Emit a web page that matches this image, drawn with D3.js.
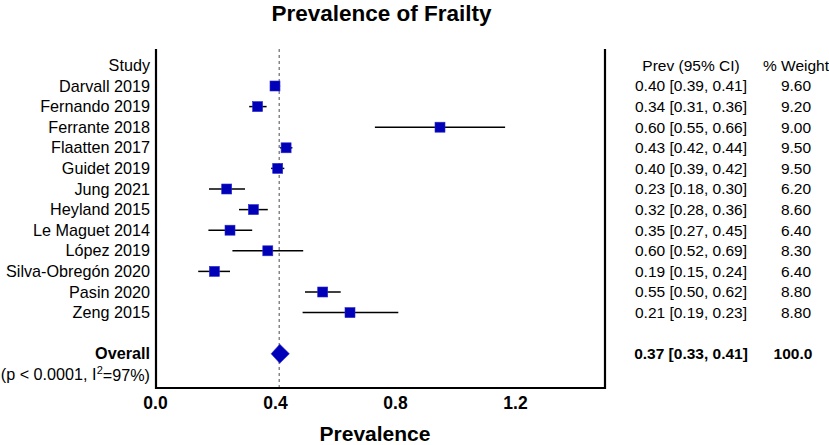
<!DOCTYPE html>
<html>
<head>
<meta charset="utf-8">
<script src="https://cdn.jsdelivr.net/npm/d3@7"></script>
<style>
  html, body { margin: 0; padding: 0; background: #fff; }
  svg { display: block; font-family: "Liberation Sans", Arial, sans-serif; }
</style>
</head>
<body>
<svg id="chart" width="829" height="445"></svg>
<script>
// ---- data ----
const studies = ["Darvall 2019", "Fernando 2019", "Ferrante 2018", "Flaatten 2017", "Guidet 2019",
  "Jung 2021", "Heyland 2015", "Le Maguet 2014", "López 2019", "Silva-Obregón 2020", "Pasin 2020", "Zeng 2015"];
const estimates = [0.400, 0.342, 0.950, 0.437, 0.409, 0.239, 0.328, 0.250, 0.376, 0.198, 0.559, 0.650];
const lowerCI   = [0.386, 0.314, 0.733, 0.417, 0.387, 0.180, 0.280, 0.178, 0.258, 0.144, 0.500, 0.492];
const upperCI   = [0.417, 0.372, 1.167, 0.458, 0.431, 0.300, 0.376, 0.324, 0.494, 0.250, 0.619, 0.811];
const prevLabels = ["0.40 [0.39, 0.41]", "0.34 [0.31, 0.36]", "0.60 [0.55, 0.66]", "0.43 [0.42, 0.44]",
  "0.40 [0.39, 0.42]", "0.23 [0.18, 0.30]", "0.32 [0.28, 0.36]", "0.35 [0.27, 0.45]", "0.60 [0.52, 0.69]",
  "0.19 [0.15, 0.24]", "0.55 [0.50, 0.62]", "0.21 [0.19, 0.23]"];
const weightLabels = ["9.60", "9.20", "9.00", "9.50", "9.50", "6.20", "8.60", "6.40", "8.30", "6.40", "8.80", "8.80"];
const overallVals = [0.387, 0.416, 0.448];   // lower, estimate, upper
const overallPrev = "0.37 [0.33, 0.41]";
const overallWeight = "100.0";
const refLine = 0.414;
const xTicks = [0.0, 0.4, 0.8, 1.2];
const xDomain = [0, 1.5];

// ---- layout ----
const svg = d3.select("#chart");
const FONT = '"Liberation Sans", Arial, sans-serif';
const x = d3.scaleLinear().domain(xDomain).range([155, 605]);
// row index -> y (header = -1, studies 0..11, overall = 13, stats = 14)
const y = d3.scaleLinear().domain([0, 11]).range([86, 312.6]);
const frameTop = 49, frameBottom = 388;
const labelX = 150, prevX = 691, weightX = 796;
const blue = "#0000b8";

// title
svg.append("text")
  .attr("x", 381.5).attr("y", 21)
  .attr("text-anchor", "middle")
  .attr("font-size", 22.5).attr("font-weight", "bold")
  .text("Prevalence of Frailty");

// frame (left, right, bottom)
const frame = svg.append("g").attr("stroke", "#000").attr("stroke-width", 2.2).attr("fill", "none");
frame.append("path")
  .attr("d", `M${x(0) + 1},${frameTop}V${frameBottom}H${x(xDomain[1])}V${frameTop}`);

// reference dashed line
svg.append("line")
  .attr("x1", x(refLine)).attr("x2", x(refLine))
  .attr("y1", frameTop).attr("y2", frameBottom - 1)
  .attr("stroke", "#6a6a6a").attr("stroke-width", 1.2)
  .attr("stroke-dasharray", "3,3");

// x axis tick labels
const xAxis = d3.axisBottom(x).tickValues(xTicks).tickFormat(d3.format(".1f")).tickSize(0).tickPadding(9);
const gx = svg.append("g").attr("transform", `translate(0,${frameBottom})`).call(xAxis);
gx.select(".domain").remove();
gx.selectAll("text").attr("font-size", 17.5).attr("font-weight", "bold").attr("font-family", FONT).attr("fill", "#000");

// x label
svg.append("text")
  .attr("x", 375).attr("y", 441)
  .attr("text-anchor", "middle")
  .attr("font-size", 21).attr("font-weight", "bold")
  .text("Prevalence");

// header row
svg.append("text").attr("x", labelX).attr("y", y(-1)).attr("dy", "0.35em")
  .attr("text-anchor", "end").attr("font-size", 16.2).text("Study");
svg.append("text").attr("x", prevX).attr("y", y(-1)).attr("dy", "0.35em")
  .attr("text-anchor", "middle").attr("font-size", 15.5).text("Prev (95% CI)");
svg.append("text").attr("x", 796).attr("y", y(-1)).attr("dy", "0.35em")
  .attr("text-anchor", "middle").attr("font-size", 15.5).text("% Weight");

const rows = studies.map((s, i) => ({ study: s, est: estimates[i], lo: lowerCI[i], hi: upperCI[i], prev: prevLabels[i], w: weightLabels[i], i }));

// study labels
svg.append("g").selectAll("text").data(rows).join("text")
  .attr("x", labelX).attr("y", d => y(d.i)).attr("dy", "0.35em")
  .attr("text-anchor", "end").attr("font-size", 16.2)
  .text(d => d.study);

// table columns
svg.append("g").selectAll("text").data(rows).join("text")
  .attr("x", prevX).attr("y", d => y(d.i)).attr("dy", "0.35em")
  .attr("text-anchor", "middle").attr("font-size", 15.5)
  .text(d => d.prev);
svg.append("g").selectAll("text").data(rows).join("text")
  .attr("x", weightX).attr("y", d => y(d.i)).attr("dy", "0.35em")
  .attr("text-anchor", "middle").attr("font-size", 15.5)
  .text(d => d.w);

// CI lines
svg.append("g").selectAll("line").data(rows).join("line")
  .attr("x1", d => x(d.lo)).attr("x2", d => x(d.hi))
  .attr("y1", d => y(d.i)).attr("y2", d => y(d.i))
  .attr("stroke", "#000").attr("stroke-width", 1.5);

// squares
const sq = 10;
svg.append("g").selectAll("rect").data(rows).join("rect")
  .attr("x", d => x(d.est) - sq / 2).attr("y", d => y(d.i) - sq / 2)
  .attr("width", sq).attr("height", sq)
  .attr("fill", blue).attr("stroke", "#2a2acc").attr("stroke-width", 0.6);

// overall
const yo = y(13);
svg.append("path")
  .attr("d", `M${x(overallVals[0])},${yo}L${x(overallVals[1])},${yo - 9.5}L${x(overallVals[2])},${yo}L${x(overallVals[1])},${yo + 9.5}Z`)
  .attr("fill", blue).attr("stroke", "#2a2acc").attr("stroke-width", 0.6);

svg.append("text").attr("x", labelX).attr("y", yo).attr("dy", "0.35em")
  .attr("text-anchor", "end").attr("font-size", 16.2).attr("font-weight", "bold").text("Overall");
const st = svg.append("text").attr("x", labelX).attr("y", y(14)).attr("dy", "0.35em")
  .attr("text-anchor", "end").attr("font-size", 16.2);
st.append("tspan").text("(p < 0.0001, I");
st.append("tspan").attr("font-size", 11).attr("dy", "-0.55em").text("2");
st.append("tspan").attr("dy", "0.4em").text("=97%)");

svg.append("text").attr("x", prevX).attr("y", yo).attr("dy", "0.35em")
  .attr("text-anchor", "middle").attr("font-size", 15.5).attr("font-weight", "bold").text(overallPrev);
svg.append("text").attr("x", weightX - 3).attr("y", yo).attr("dy", "0.35em")
  .attr("text-anchor", "middle").attr("font-size", 15.5).attr("font-weight", "bold").text(overallWeight);
</script>
</body>
</html>
